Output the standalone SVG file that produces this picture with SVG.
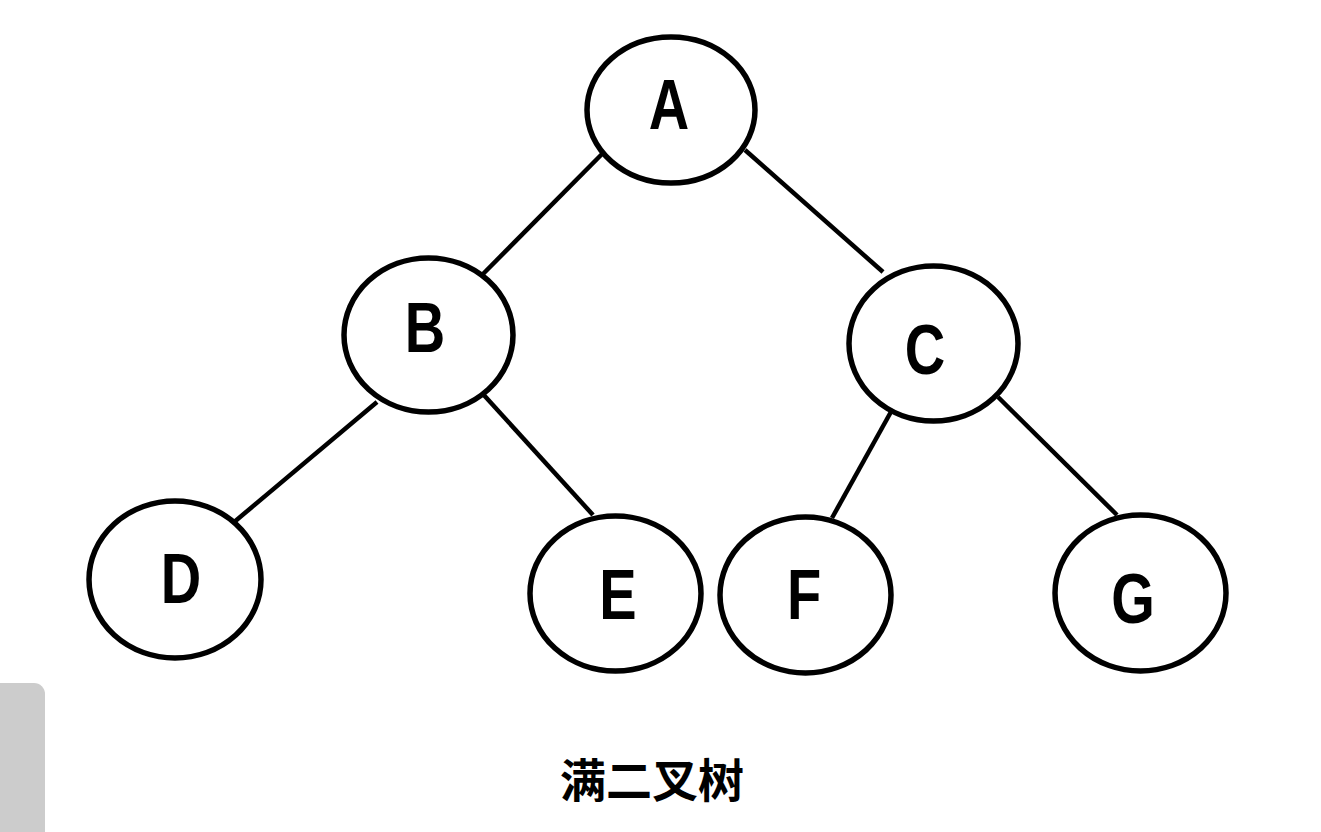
<svg xmlns="http://www.w3.org/2000/svg" width="1321" height="832" viewBox="0 0 1321 832">
<style>
.node ellipse{fill:#fff;stroke:#000;stroke-width:5.5}
.node text{font-family:"Liberation Sans","DejaVu Sans",sans-serif;font-weight:bold;font-size:70px;text-anchor:middle;fill:#000}
#edges line{stroke:#000;stroke-width:4.5;stroke-linecap:butt}
.title{font-family:"Noto Sans CJK SC","Noto Sans",sans-serif;font-weight:bold;font-size:46px;text-anchor:middle;fill:#000}
</style>
<rect x="0" y="0" width="1321" height="832" fill="#fff"/>
<rect x="-20" y="683" width="65" height="170" rx="11" ry="11" fill="#cccccc"/>
<g id="edges">
<line x1="603" y1="153" x2="483" y2="274"/>
<line x1="745" y1="150" x2="883" y2="272"/>
<line x1="377" y1="402" x2="233" y2="523"/>
<line x1="482" y1="393" x2="593" y2="515"/>
<line x1="892" y1="410" x2="832" y2="518"/>
<line x1="998" y1="397" x2="1117" y2="515"/>
</g>
<g id="node-A" class="node"><ellipse cx="671" cy="110" rx="84" ry="73"/><text transform="translate(669,129) scale(0.8,1)">A</text></g>
<g id="node-B" class="node"><ellipse cx="428.5" cy="335" rx="84.5" ry="77"/><text transform="translate(425,352) scale(0.8,1)">B</text></g>
<g id="node-C" class="node"><ellipse cx="933.5" cy="343.5" rx="84.5" ry="77.5"/><text transform="translate(925,374) scale(0.8,1)">C</text></g>
<g id="node-D" class="node"><ellipse cx="175" cy="579.5" rx="86" ry="78.5"/><text transform="translate(181,603) scale(0.8,1)">D</text></g>
<g id="node-E" class="node"><ellipse cx="615.5" cy="593.5" rx="85.5" ry="77.5"/><text transform="translate(618,619) scale(0.8,1)">E</text></g>
<g id="node-F" class="node"><ellipse cx="805.5" cy="595" rx="85.5" ry="78"/><text transform="translate(804,619) scale(0.8,1)">F</text></g>
<g id="node-G" class="node"><ellipse cx="1140.5" cy="593" rx="85.5" ry="78"/><text transform="translate(1133,623) scale(0.8,1)">G</text></g>
<text class="title" x="652" y="797">满二叉树</text>
</svg>
